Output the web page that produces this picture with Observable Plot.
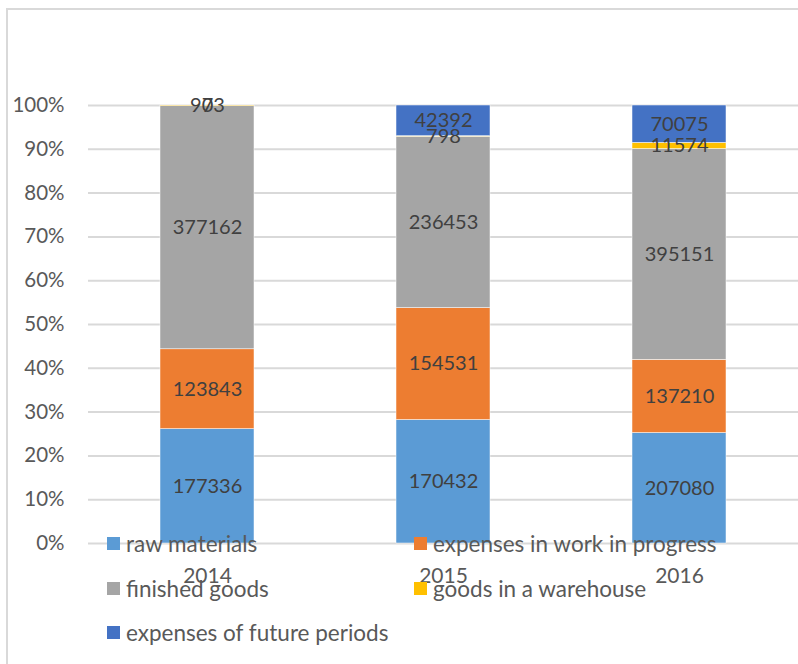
<!DOCTYPE html>
<html>
<head>
<meta charset="utf-8">
<script src="https://cdn.jsdelivr.net/npm/d3@7"></script>
<script src="https://cdn.jsdelivr.net/npm/@observablehq/plot@0.6"></script>
<style>
  html, body { margin: 0; padding: 0; background: #fff; }
  #wrap { position: relative; width: 798px; height: 664px; overflow: hidden; font-family: Lato, "Open Sans", sans-serif; }
  #frame { position: absolute; left: 6px; top: 8px; width: 800px; height: 700px; border-left: 2px solid #d9d9d9; border-top: 2px solid #d9d9d9; box-sizing: border-box; }
  #chart { position: absolute; left: 0; top: 0; }
  #legend { position: absolute; left: 0; top: 0; width: 798px; height: 664px; pointer-events: none; }
  .item { position: absolute; display: flex; align-items: center; font-size: 22.5px; color: #595959; white-space: nowrap; }
  .sw { width: 13px; height: 13px; margin-right: 6px; flex: none; }
</style>
</head>
<body>
<div id="wrap">
  <div id="frame"></div>
  <div id="chart"></div>
  <div id="legend"></div>
</div>
<script>
const years = ["2014", "2015", "2016"];
const series = ["raw materials", "expenses in work in progress", "finished goods", "goods in a warehouse", "expenses of future periods"];
const colors = ["#5B9BD5", "#ED7D31", "#A5A5A5", "#FFC000", "#4472C4"];
const rawMaterials = [177336, 170432, 207080];
const workInProgress = [123843, 154531, 137210];
const finishedGoods = [377162, 236453, 395151];
const warehouseGoods = [973, 798, 11574];
const futurePeriods = [0, 42392, 70075];
const yTicks = [0, 0.1, 0.2, 0.3, 0.4, 0.5, 0.6, 0.7, 0.8, 0.9, 1];

const valuesBySeries = [rawMaterials, workInProgress, finishedGoods, warehouseGoods, futurePeriods];
const data = [];
series.forEach((s, i) => years.forEach((yr, j) => data.push({year: yr, series: s, value: valuesBySeries[i][j]})));

const pct = d => Math.round(d * 100) + "%";

const chart = Plot.plot({
  width: 798,
  height: 664,
  marginTop: 105,
  marginBottom: 121,
  marginLeft: 88,
  marginRight: 0,
  style: {fontFamily: "Lato, 'Open Sans', sans-serif", fontSize: "20px", color: "#595959", background: "transparent"},
  x: {domain: years, paddingInner: 0.6, paddingOuter: 0.3, label: null},
  y: {domain: [0, 1], label: null},
  color: {domain: series, range: colors},
  marks: [
    Plot.gridY(yTicks, {stroke: "#d9d9d9", strokeOpacity: 1, strokeWidth: 2}),
    Plot.axisY({ticks: yTicks, tickFormat: pct, tickSize: 0, tickPadding: 24, fontSize: 20.5, label: null}),
    Plot.axisX({tickSize: 0, tickPadding: 25, fontSize: 21, label: null}),
    Plot.barY(data, Plot.stackY({offset: "normalize", x: "year", y: "value", fill: "series", stroke: "white", strokeWidth: 0.5})),
    Plot.text(data, Plot.stackY({offset: "normalize", x: "year", y: "value", text: d => String(d.value), fill: "#404040", fontSize: 20}))
  ]
});
document.getElementById("chart").appendChild(chart);

const legendPos = [[107, 543], [414, 543], [107, 588], [414, 588], [107, 632]];
const legend = document.getElementById("legend");
series.forEach((s, i) => {
  const el = document.createElement("div");
  el.className = "item";
  el.style.left = legendPos[i][0] + "px";
  el.style.top = (legendPos[i][1] - 14) + "px";
  el.style.height = "28px";
  el.innerHTML = `<span class="sw" style="background:${colors[i]}"></span><span>${s}</span>`;
  legend.appendChild(el);
});
</script>
</body>
</html>
